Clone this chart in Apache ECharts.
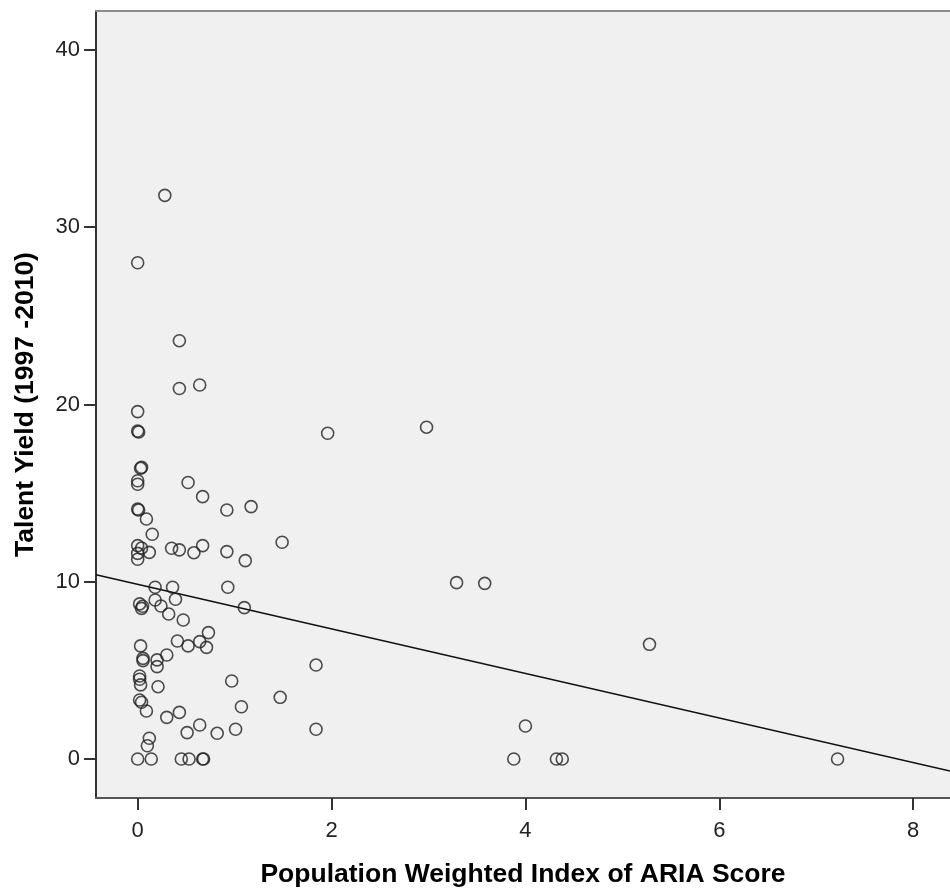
<!DOCTYPE html>
<html>
<head>
<meta charset="utf-8">
<script src="https://cdn.jsdelivr.net/npm/echarts@6/dist/echarts.min.js"></script>
<style>
html,body{margin:0;padding:0;background:#fff;}
#chart{width:950px;height:891px;}
</style>
</head>
<body>
<div id="chart"></div>
<script>
const xTicks = [0, 2, 4, 6, 8];
const yTicks = [0, 10, 20, 30, 40];
const xTitle = 'Population Weighted Index of ARIA Score';
const yTitle = 'Talent Yield (1997 -2010)';

const points = [
  [0.28,31.8],[0.0,28.0],[0.43,23.6],[0.43,20.9],[0.64,21.1],[0.0,19.6],
  [0.0,18.5],[0.01,18.45],[0.03,16.4],[0.04,16.45],[0.0,15.7],[0.0,15.5],
  [0.52,15.6],[0.67,14.8],[0.92,14.05],[1.17,14.24],[0.0,14.1],[0.01,14.05],
  [0.09,13.54],[0.15,12.68],[0.0,12.04],[0.0,11.6],[0.0,11.27],[0.04,11.9],
  [0.12,11.66],[0.35,11.89],[0.43,11.8],[0.58,11.64],[0.67,12.04],[0.92,11.7],
  [1.11,11.19],[1.49,12.23],
  [0.93,9.69],[0.18,9.69],[0.36,9.69],[0.18,8.97],[0.39,9.01],[0.02,8.75],
  [0.05,8.62],[0.04,8.5],[0.24,8.63],[0.32,8.18],[0.47,7.84],[1.10,8.54],
  [0.41,6.66],[0.52,6.38],[0.64,6.62],[0.73,7.13],[0.71,6.3],[0.03,6.38],
  [0.055,5.68],[0.055,5.55],[0.2,5.59],[0.2,5.21],[0.30,5.87],[0.02,4.68],
  [0.02,4.5],[0.03,4.18],[0.21,4.08],[0.97,4.4],[1.47,3.48],[1.07,2.95],
  [0.02,3.33],[0.04,3.2],[0.09,2.71],[0.43,2.63],[0.30,2.35],[0.64,1.92],
  [0.51,1.49],[0.82,1.45],[1.01,1.68],[1.84,5.3],[1.84,1.68],[0.12,1.17],[0.1,0.75],
  [0.0,0],[0.14,0],[0.45,0],[0.53,0],[0.67,0],[0.68,0],
  [1.96,18.38],[2.98,18.72],[3.29,9.95],[3.58,9.91],[4.0,1.86],[3.88,0],
  [4.32,0],[4.38,0],[5.28,6.47],[7.22,0]
];

const fitLine = [[-0.43, 10.39], [8.38, -0.68]];

const chart = echarts.init(document.getElementById('chart'), null, {renderer: 'canvas'});
const tickFont = "'Liberation Sans', Arial, sans-serif";
const titleFont = "'Liberation Sans', Arial, sans-serif";

chart.setOption({
  animation: false,
  backgroundColor: '#ffffff',
  grid: {
    left: 96, top: 11, width: 854, height: 787,
    outerBoundsMode: 'none', containLabel: false,
    show: true, backgroundColor: '#f0f0f0', borderWidth: 0
  },
  xAxis: [{
    type: 'value', min: -0.43, max: 8.38,
    name: xTitle, nameLocation: 'middle', nameGap: 63,
    nameTextStyle: {fontFamily: titleFont, fontWeight: 'bold', fontSize: 26.5, color: '#000'},
    axisLine: {show: true, onZero: false, lineStyle: {color: '#555', width: 2}},
    axisTick: {show: true, length: 12, customValues: xTicks, lineStyle: {color: '#333', width: 2}},
    axisLabel: {customValues: xTicks, margin: 22, fontFamily: tickFont, fontSize: 22, color: '#222'},
    splitLine: {show: false}
  }, {
    type: 'value', position: 'top', min: -0.43, max: 8.38,
    axisLine: {show: true, onZero: false, lineStyle: {color: '#8c8c8c', width: 2}},
    axisTick: {show: false}, axisLabel: {show: false}, splitLine: {show: false}
  }],
  yAxis: {
    type: 'value', min: -2.2, max: 42.2,
    name: yTitle, nameLocation: 'middle', nameGap: 57, nameRotate: 90,
    nameTextStyle: {fontFamily: titleFont, fontWeight: 'bold', fontSize: 26.5, color: '#000'},
    axisLine: {show: true, onZero: false, lineStyle: {color: '#333', width: 2}},
    axisTick: {show: true, length: 12, customValues: yTicks, lineStyle: {color: '#333', width: 2}},
    axisLabel: {customValues: yTicks, margin: 16, fontFamily: tickFont, fontSize: 22, color: '#222'},
    splitLine: {show: false}
  },
  series: [
    {
      type: 'line', data: fitLine, symbol: 'none', silent: true,
      lineStyle: {color: '#111', width: 1.6}, z: 2
    },
    {
      type: 'scatter', data: points, symbol: 'circle', symbolSize: 12,
      itemStyle: {color: 'rgba(0,0,0,0)', borderColor: '#222', borderWidth: 1.6}, z: 3
    }
  ]
});
</script>
</body>
</html>
